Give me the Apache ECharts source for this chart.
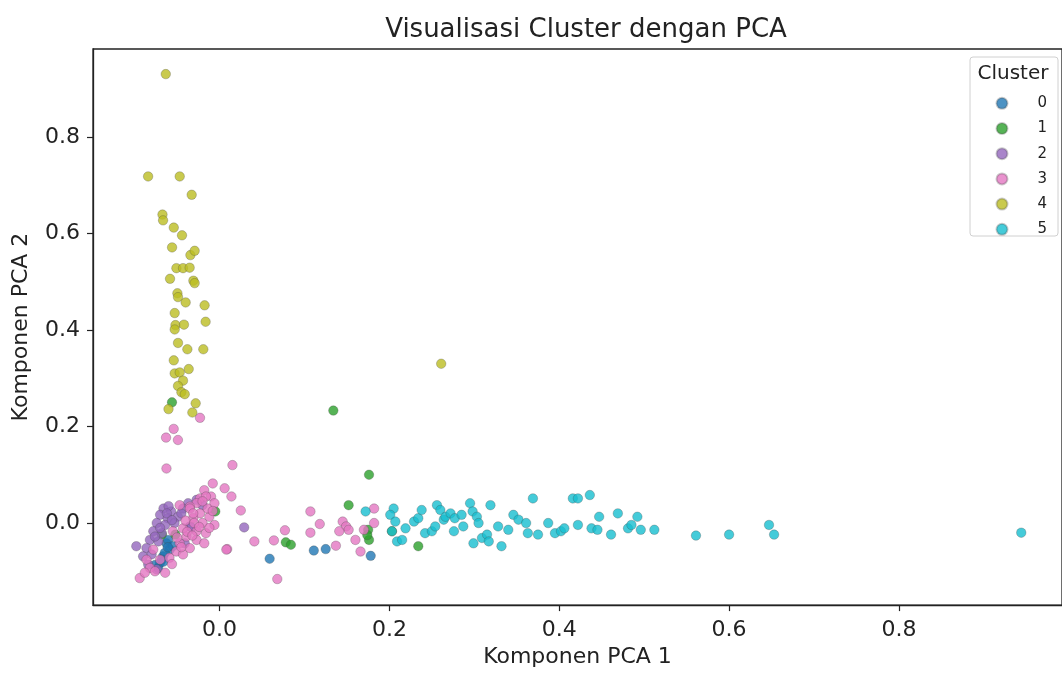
<!DOCTYPE html>
<html>
<head>
<meta charset="utf-8">
<script src="https://cdn.jsdelivr.net/npm/echarts@6/dist/echarts.min.js"></script>
<style>
html,body{margin:0;padding:0;background:#fff;}
#chart{width:1062px;height:673px;}
</style>
</head>
<body>
<div id="chart"></div>
<script>
var clusterNames = ['0','1','2','3','4','5'];
var clusterColors = ['#1f77b4','#2ca02c','#9467bd','#e377c2','#bcbd22','#17becf'];
var xTicks = [0, 0.2, 0.4, 0.6, 0.8];
var yTicks = [0, 0.2, 0.4, 0.6, 0.8];

var cluster0 = [[-0.0625,-0.042],[-0.0586,-0.055],[-0.0665,-0.069],[-0.0703,-0.083],[-0.0723,-0.093],[-0.0606,-0.035],[-0.0645,-0.062],[-0.055,-0.048],[-0.068,-0.076],[-0.076,-0.087],[-0.061,-0.050],[-0.066,-0.080],[0.059,-0.074],[0.111,-0.057],[0.125,-0.054],[0.178,-0.068]];

var cluster1 = [[0.134,0.233],[0.176,0.100],[0.152,0.037],[0.078,-0.040],[0.084,-0.045],[0.175,-0.014],[0.176,-0.035],[0.234,-0.048],[0.203,-0.017],[-0.005,0.024],[-0.052,-0.024],[-0.068,-0.024],[-0.056,0.250],[0.174,-0.025]];

var cluster2 = [[-0.066,0.030],[-0.057,0.024],[-0.070,0.017],[-0.061,0.010],[-0.049,0.013],[-0.074,0.000],[-0.064,-0.004],[-0.053,0.000],[-0.037,0.041],[-0.027,0.048],[-0.020,0.037],[-0.043,0.030],[-0.078,-0.017],[-0.068,-0.021],[-0.082,-0.035],[-0.072,-0.038],[-0.098,-0.048],[-0.086,-0.052],[-0.090,-0.069],[-0.080,-0.065],[-0.084,-0.086],[-0.074,-0.096],[-0.035,-0.007],[-0.041,-0.042],[0.029,-0.009],[-0.033,-0.009],[-0.060,0.035],[-0.045,0.020],[-0.062,0.020],[-0.056,0.006],[-0.070,-0.010],[-0.076,-0.028]];

var cluster3 = [[-0.054,0.195],[-0.063,0.177],[-0.049,0.172],[-0.0625,0.113],[0.0152,0.120],[-0.023,0.218],[-0.008,0.082],[0.006,0.072],[0.014,0.055],[0.025,0.026],[0.041,-0.038],[0.009,-0.054],[0.064,-0.036],[0.077,-0.015],[0.068,-0.116],[0.107,0.024],[0.118,-0.002],[0.107,-0.020],[0.137,-0.047],[0.145,0.003],[0.149,-0.007],[0.152,-0.014],[0.160,-0.035],[0.166,-0.059],[0.182,0.000],[0.182,0.030],[0.170,-0.014],[0.141,-0.017],[-0.018,0.068],[-0.023,0.051],[-0.010,0.055],[-0.027,0.041],[-0.035,0.034],[-0.006,-0.004],[-0.035,0.030],[-0.023,0.020],[-0.012,0.013],[-0.031,0.010],[-0.020,0.000],[-0.043,-0.011],[-0.027,-0.017],[-0.016,-0.021],[-0.039,-0.028],[-0.027,-0.035],[-0.047,-0.042],[-0.035,-0.052],[-0.051,-0.059],[-0.043,-0.065],[-0.059,-0.072],[-0.070,-0.076],[-0.078,-0.055],[-0.086,-0.076],[-0.082,-0.093],[-0.094,-0.114],[-0.088,-0.103],[-0.064,-0.103],[-0.047,0.037],[-0.016,0.055],[-0.006,0.041],[0.008,-0.055],[-0.031,0.020],[-0.055,-0.017],[-0.018,-0.042],[-0.040,0.005],[-0.050,-0.030],[-0.012,-0.010],[-0.030,0.000],[-0.024,-0.008],[-0.014,0.030],[-0.038,-0.018],[-0.045,-0.050],[-0.056,-0.085],[-0.076,-0.100],[-0.008,0.025],[-0.020,0.045],[-0.032,-0.026]];

var cluster4 = [[-0.0633,0.930],[-0.0841,0.718],[-0.0469,0.718],[-0.0328,0.680],[-0.0672,0.639],[-0.0665,0.627],[-0.0539,0.612],[-0.0442,0.596],[-0.0559,0.571],[-0.0343,0.555],[-0.0293,0.564],[-0.0508,0.528],[-0.0430,0.528],[-0.0352,0.529],[-0.0583,0.506],[-0.0308,0.502],[-0.0293,0.497],[-0.0496,0.476],[-0.0489,0.468],[-0.0399,0.457],[-0.0176,0.451],[-0.0528,0.435],[-0.0164,0.417],[-0.0519,0.410],[-0.0528,0.401],[-0.0419,0.411],[-0.0489,0.373],[-0.0379,0.360],[-0.0191,0.360],[-0.0539,0.337],[-0.0363,0.319],[-0.0528,0.310],[-0.0469,0.312],[-0.0430,0.295],[-0.0489,0.284],[-0.0449,0.271],[-0.0410,0.267],[-0.0601,0.236],[-0.0281,0.248],[-0.0320,0.229],[0.261,0.330]];

var cluster5 = [[0.172,0.024],[0.205,0.030],[0.201,0.017],[0.207,0.003],[0.203,-0.017],[0.209,-0.038],[0.215,-0.035],[0.219,-0.011],[0.229,0.003],[0.234,0.010],[0.238,0.027],[0.242,-0.021],[0.250,-0.017],[0.254,-0.007],[0.256,0.037],[0.260,0.027],[0.264,0.007],[0.266,0.013],[0.272,0.020],[0.276,-0.017],[0.277,0.010],[0.285,0.017],[0.287,-0.007],[0.295,0.041],[0.298,0.024],[0.303,0.013],[0.305,0.000],[0.299,-0.042],[0.309,-0.031],[0.315,-0.024],[0.319,0.037],[0.317,-0.038],[0.328,-0.007],[0.332,-0.048],[0.340,-0.014],[0.346,0.017],[0.352,0.007],[0.361,0.000],[0.363,-0.021],[0.375,-0.024],[0.369,0.051],[0.387,0.000],[0.395,-0.021],[0.402,-0.017],[0.406,-0.011],[0.416,0.051],[0.422,0.051],[0.436,0.058],[0.422,-0.004],[0.438,-0.011],[0.445,-0.014],[0.447,0.013],[0.461,-0.024],[0.469,0.020],[0.481,-0.011],[0.485,-0.004],[0.492,0.013],[0.496,-0.014],[0.512,-0.014],[0.561,-0.026],[0.600,-0.024],[0.647,-0.004],[0.653,-0.024],[0.944,-0.020]];

var clusters = [cluster0, cluster1, cluster2, cluster3, cluster4, cluster5];

var chart = echarts.init(document.getElementById('chart'), null, {renderer:'canvas'});
var FONT = 'DejaVu Sans';
var INK = '#222';

var series = clusters.map(function(d, i){
  return {
    name: clusterNames[i],
    type: 'scatter',
    data: d,
    symbol: 'circle',
    symbolSize: 9.5,
    itemStyle: {
      color: clusterColors[i],
      opacity: 0.8,
      borderColor: 'rgba(70,70,70,0.35)',
      borderWidth: 1
    },
    emphasis: {disabled: true}
  };
});

chart.setOption({
  animation: false,
  backgroundColor: '#fff',
  title: {
    text: 'Visualisasi Cluster dengan PCA',
    left: 581, top: 12, textAlign: 'center',
    textStyle: {fontFamily: FONT, fontSize: 26, fontWeight: 'normal', color: INK}
  },
  grid: {
    left: 93, top: 49, width: 973, height: 560,
    show: true, borderColor: INK, borderWidth: 1.3, backgroundColor: 'transparent'
  },
  xAxis: {
    type: 'value', min: -0.149, max: 0.992,
    name: 'Komponen PCA 1', nameLocation: 'middle', nameGap: 39,
    nameTextStyle: {fontFamily: FONT, fontSize: 22, color: INK},
    splitLine: {show: false},
    axisLine: {show: true, onZero: false, lineStyle: {color: INK, width: 1.3}},
    axisTick: {show: true, length: 6, customValues: xTicks, lineStyle: {color: INK, width: 1.2}},
    axisLabel: {customValues: xTicks, margin: 14, fontFamily: FONT, fontSize: 22, color: INK,
      formatter: function(v){ return v.toFixed(1); }}
  },
  yAxis: {
    type: 'value', min: -0.17, max: 0.982,
    name: 'Komponen PCA 2', nameLocation: 'middle', nameGap: 61, nameRotate: 90,
    nameTextStyle: {fontFamily: FONT, fontSize: 22, color: INK},
    splitLine: {show: false},
    axisLine: {show: true, onZero: false, lineStyle: {color: INK, width: 1.3}},
    axisTick: {show: true, length: 6, customValues: yTicks, lineStyle: {color: INK, width: 1.2}},
    axisLabel: {customValues: yTicks, margin: 13, fontFamily: FONT, fontSize: 22, color: INK,
      formatter: function(v){ return v.toFixed(1); }}
  },
  legend: {
    orient: 'vertical',
    left: 995.5, top: 95.8,
    padding: 0,
    itemWidth: 11, itemHeight: 11,
    itemGap: 10.2,
    icon: 'circle',
    data: clusterNames,
    textStyle: {fontFamily: FONT, fontSize: 15, color: INK, lineHeight: 10, padding: [0,0,0,25]}
  },
  graphic: [
    {type: 'rect', x: 970, y: 57, shape: {width: 88, height: 179, r: 3},
     style: {fill: 'rgba(255,255,255,0.8)', stroke: '#d0d0d0', lineWidth: 1}, z: 0},
    {type: 'text', x: 1013, y: 74,
     style: {text: 'Cluster', fontFamily: FONT, fontSize: 20, fill: INK, align: 'center', verticalAlign: 'middle'}, z: 10}
  ],
  series: series
});
</script>
</body>
</html>
